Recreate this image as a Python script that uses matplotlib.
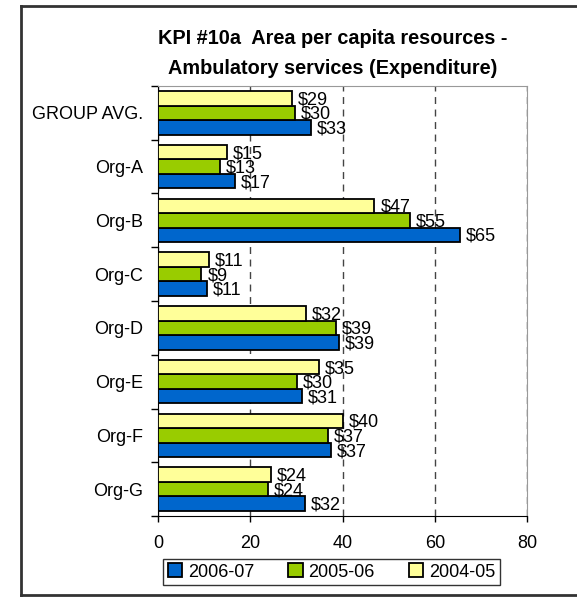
import matplotlib.pyplot as plt
import numpy as np

plt.rcParams['font.family'] = ['Liberation Sans', 'DejaVu Sans']

# Dados
categorias = ['GROUP AVG.', 'Org-A', 'Org-B', 'Org-C', 'Org-D', 'Org-E', 'Org-F', 'Org-G']
v2004 = [29.1, 15.0, 46.9, 11.0, 32.1, 34.8, 40.0, 24.4]
v2005 = [29.6, 13.4, 54.6, 9.4, 38.6, 30.2, 36.8, 23.9]
v2006 = [33.2, 16.6, 65.4, 10.6, 39.2, 31.2, 37.4, 31.8]
series = ['2006-07', '2005-06', '2004-05']
cores = ['#0066CC', '#99CC00', '#FFFF99']
xticks = [0, 20, 40, 60, 80]

fig = plt.figure(figsize=(5.77, 5.97), dpi=100)
ax = fig.add_axes([158 / 577, 1 - 516 / 597, 369 / 577, 430 / 597])

y = np.arange(len(categorias))
h = 0.27
valores = [v2006, v2005, v2004]
offsets = [h, 0, -h]
for vals, cor, nome, off in zip(valores, cores, series, offsets):
    bars = ax.barh(y + off, vals, height=h, color=cor, edgecolor='black',
                   linewidth=1.3, label=nome, zorder=3)
    for b, v in zip(bars, vals):
        ax.text(b.get_width() + 1.3, b.get_y() + b.get_height() / 2 + 0.03,
                '$%d' % round(v), va='center', ha='left', fontsize=13, zorder=4)

ax.set_ylim(len(categorias) - 0.5, -0.5)
ax.set_xlim(0, 80)
ax.set_xticks(xticks)
ax.set_yticks(y)
ax.set_yticklabels(categorias, fontsize=13)
ax.set_yticks(np.arange(len(categorias) + 1) - 0.5, minor=True)
ax.tick_params(axis='y', which='major', length=0, pad=10.5)
ax.tick_params(axis='y', which='minor', length=5, width=1, direction='out')
ax.tick_params(axis='x', length=4, width=1, direction='out', labelsize=13, pad=9.5)

ax.grid(axis='x', linestyle=(0, (5, 4)), color='#444444', linewidth=1, zorder=0)
ax.spines['top'].set_color('#999999')
ax.spines['right'].set_color('#999999')
ax.spines['left'].set_color('black')
ax.spines['bottom'].set_color('black')

# Titulo
fig.text(333 / 577, 1 - 38 / 597, 'KPI #10a  Area per capita resources -',
         ha='center', va='center', fontsize=14.3, fontweight='bold')
fig.text(333 / 577, 1 - 68 / 597, 'Ambulatory services (Expenditure)',
         ha='center', va='center', fontsize=14.3, fontweight='bold')

# Legenda
handles, labels = ax.get_legend_handles_labels()
leg = fig.legend(handles, labels, loc='center', ncol=3,
                 bbox_to_anchor=(331.5 / 577, 1 - 572 / 597), fontsize=13,
                 frameon=True, fancybox=False, edgecolor='black',
                 handlelength=0.8, handleheight=0.8, handletextpad=0.3,
                 columnspacing=1.9, borderpad=0.25)
leg.get_frame().set_linewidth(1)

# Moldura externa
for xs, ys in [([21, 577], [6, 6]), ([21, 21], [6, 595]), ([21, 577], [595, 595])]:
    fig.add_artist(plt.Line2D([x / 577 for x in xs], [1 - v / 597 for v in ys],
                              color='#333333', linewidth=2))

fig.savefig('out.png', dpi=100)
